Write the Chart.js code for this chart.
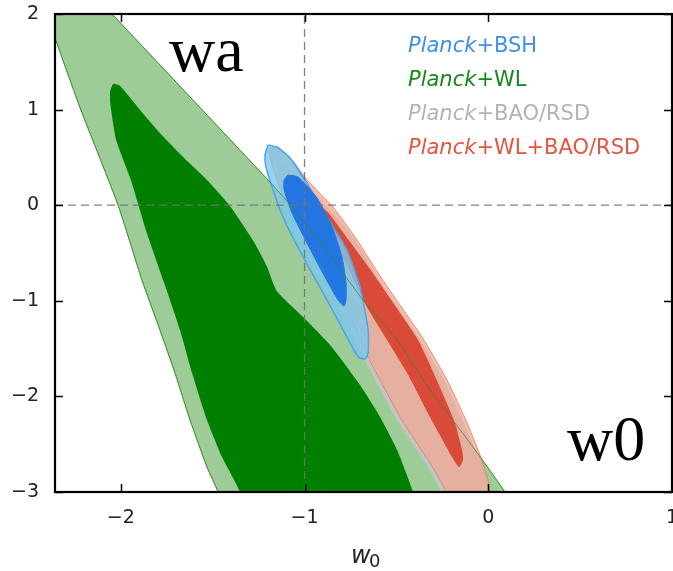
<!DOCTYPE html>
<html>
<head>
<meta charset="utf-8">
<title>w0 - wa constraints</title>
<script src="https://cdn.jsdelivr.net/npm/chart.js@4/dist/chart.umd.min.js"></script>
<style>
  html, body { margin: 0; padding: 0; background: #fff; }
  #wrap { width: 673px; height: 571px; }
</style>
</head>
<body>
<div id="wrap"><canvas id="contours" width="673" height="571"></canvas></div>
<script>
// Axis ranges and ticks
const w0Range = [-2.358, 1];
const waRange = [-3, 2];
const w0Ticks = [-2, -1, 0, 1];
const waTicks = [-3, -2, -1, 0, 1, 2];

// LCDM reference values (dashed cross-hair)
const w0Fid = -1;
const waFid = 0;

// Contour boundaries as [w0, wa] pairs (closed loops)
const wlOuter = [
    [-2.451, 2.251], [-2.173, 2.251], [-2.048, 2.0], [-1.623, 1.132], [-1.199, 0.264],
    [-1.024, -0.113], [-0.834, -0.594], [-0.682, -0.992], [-0.496, -1.410], [-0.317, -1.933],
    [-0.099, -2.487], [0.091, -3.0], [0.145, -3.188], [-1.449, -3.188], [-1.471, -3.0],
    [-1.531, -2.738], [-1.623, -2.247], [-1.705, -1.755], [-1.787, -1.305], [-1.885, -0.782],
    [-2.015, 0.002], [-2.217, 0.996], [-2.358, 1.749], [-2.451, 2.251]
];
const wlInner = [
    [-2.059, 1.184], [-2.042, 1.268], [-2.004, 1.247], [-1.895, 0.996], [-1.787, 0.755],
    [-1.661, 0.504], [-1.531, 0.264], [-1.406, -0.008], [-1.280, -0.370], [-1.205, -0.640],
    [-1.150, -0.900], [-1.008, -1.169], [-0.861, -1.462], [-0.698, -1.881], [-0.589, -2.215],
    [-0.496, -2.561], [-0.409, -3.0], [-0.382, -3.188], [-1.340, -3.188], [-1.351, -3.0],
    [-1.449, -2.634], [-1.531, -2.247], [-1.612, -1.755], [-1.678, -1.305], [-1.760, -0.835],
    [-1.858, -0.291], [-1.945, 0.264], [-2.025, 0.682], [-2.057, 1.060], [-2.059, 1.184]
];
const baoOuter = [
    [-1.155, 0.471], [-1.024, 0.264], [-0.861, -0.050], [-0.725, -0.364], [-0.610, -0.732],
    [-0.502, -1.044], [-0.382, -1.379], [-0.241, -1.828], [-0.132, -2.278], [-0.061, -2.613],
    [-0.017, -2.874], [-0.007, -3.0], [0.004, -3.188], [-0.251, -3.188], [-0.257, -3.0],
    [-0.344, -2.697], [-0.507, -2.215], [-0.681, -1.588], [-0.779, -1.169], [-0.888, -0.782],
    [-1.008, -0.364], [-1.106, 0.054], [-1.144, 0.316], [-1.155, 0.471]
];
const jointOuter = [
    [-1.188, 0.598], [-1.155, 0.609], [-1.068, 0.473], [-0.986, 0.264], [-0.845, -0.019],
    [-0.725, -0.333], [-0.599, -0.709], [-0.480, -1.044], [-0.360, -1.379], [-0.224, -1.828],
    [-0.115, -2.278], [-0.045, -2.613], [-0.001, -2.874], [0.010, -3.0], [0.021, -3.188],
    [-0.225, -3.188], [-0.230, -3.0], [-0.317, -2.697], [-0.480, -2.215], [-0.654, -1.588],
    [-0.752, -1.169], [-0.861, -0.782], [-0.986, -0.364], [-1.117, 0.086], [-1.177, 0.421],
    [-1.193, 0.557], [-1.188, 0.598]
];
const jointInner = [
    [-0.900, -0.030], [-0.870, -0.080], [-0.780, -0.312], [-0.632, -0.699], [-0.502, -1.065],
    [-0.382, -1.410], [-0.273, -1.860], [-0.181, -2.278], [-0.143, -2.561], [-0.137, -2.665],
    [-0.159, -2.738], [-0.197, -2.634], [-0.317, -2.215], [-0.442, -1.755], [-0.551, -1.410],
    [-0.660, -1.065], [-0.752, -0.699], [-0.834, -0.364], [-0.900, -0.130], [-0.900, -0.030]
];
const bshOuter = [
    [-1.199, 0.630], [-1.150, 0.609], [-1.079, 0.494], [-1.008, 0.295], [-0.878, -0.126],
    [-0.769, -0.469], [-0.698, -0.856], [-0.654, -1.305], [-0.654, -1.546], [-0.670, -1.609],
    [-0.708, -1.588], [-0.790, -1.305], [-0.899, -0.918], [-1.008, -0.542], [-1.117, -0.126],
    [-1.177, 0.190], [-1.210, 0.400], [-1.215, 0.525], [-1.199, 0.630]
];
const bshInner = [
    [-1.090, 0.316], [-1.035, 0.295], [-0.932, 0.075], [-0.850, -0.228], [-0.796, -0.542],
    [-0.774, -0.814], [-0.774, -0.992], [-0.785, -1.054], [-0.818, -0.992], [-0.889, -0.751],
    [-0.987, -0.395], [-1.068, -0.082], [-1.111, 0.159], [-1.111, 0.264], [-1.090, 0.316]
];

// Legend entries (all prefixed with italic "Planck")
const legendNames = ['BSH', 'WL', 'BAO/RSD', 'WL+BAO/RSD'];
const legendColors = ['#3f8fe6', '#17861b', '#b3b3b3', '#e6533f'];

const toPoints = arr => arr.map(p => ({x: p[0], y: p[1]}));
const minus = v => String(v).replace('-', '\u2212');

// Helper for one filled contour
function contour(label, data, fillColor, borderColor, borderWidth) {
    return {
        label: label,
        data: toPoints(data),
        backgroundColor: fillColor,
        borderColor: borderColor || 'rgba(0,0,0,0)',
        borderWidth: borderWidth || 0,
        fill: 'shape',
        tension: 0.2,
        capBezierPoints: false,
        pointRadius: 0
    };
}

function dashed(data) {
    return {
        data: toPoints(data),
        borderColor: 'rgba(115,115,115,0.9)',
        borderWidth: 1.3,
        borderDash: [8, 5],
        fill: false,
        tension: 0,
        pointRadius: 0
    };
}

// bottom -> top
const layers = [
    contour('WL 95', wlOuter, 'rgb(157,204,152)', 'rgba(95,165,85,0.9)', 1),
    contour('WL 68', wlInner, '#007f00'),
    contour('BAO 95', baoOuter, 'rgba(196,196,196,0.95)'),
    contour('WL+BAO 95', jointOuter, 'rgba(238,170,150,0.78)', 'rgba(228,120,105,0.75)', 1),
    contour('WL+BAO 68', jointInner, 'rgb(218,74,57)'),
    contour('BSH 95', bshOuter, 'rgba(122,200,235,0.8)', 'rgb(85,160,230)', 1.5),
    contour('BSH 68', bshInner, 'rgba(26,112,225,0.92)', 'rgba(40,120,220,1)', 1),
    Object.assign(contour('WL edge', wlOuter, 'rgba(0,0,0,0)', 'rgba(55,130,40,0.7)', 1), {fill: false}),
    dashed([[w0Fid, waRange[0]], [w0Fid, waRange[1]]]),
    dashed([[w0Range[0], waFid], [w0Range[1], waFid]])
];
layers.forEach((ds, i) => { ds.order = layers.length - i; });

// Frame with inward ticks, legend, and the big axis names
const decorations = {
    id: 'decorations',
    afterDraw(chart) {
        const {ctx, chartArea: a, scales: {x, y}} = chart;
        ctx.save();
        ctx.strokeStyle = '#000';
        ctx.lineWidth = 2.2;
        ctx.strokeRect(a.left, a.top, a.right - a.left, a.bottom - a.top);

        ctx.lineWidth = 1.5;
        ctx.beginPath();
        w0Ticks.forEach(v => {
            const px = Math.round(x.getPixelForValue(v)) + 0.5;
            ctx.moveTo(px, a.bottom); ctx.lineTo(px, a.bottom - 8);
            ctx.moveTo(px, a.top); ctx.lineTo(px, a.top + 8);
        });
        waTicks.forEach(v => {
            const py = Math.round(y.getPixelForValue(v)) + 0.5;
            ctx.moveTo(a.left, py); ctx.lineTo(a.left + 8, py);
            ctx.moveTo(a.right, py); ctx.lineTo(a.right - 8, py);
        });
        ctx.stroke();

        // legend
        ctx.textBaseline = 'alphabetic';
        ctx.textAlign = 'left';
        legendNames.forEach((name, i) => {
            const lx = 408, ly = 52 + i * 34;
            ctx.fillStyle = legendColors[i];
            ctx.font = 'italic 21px "DejaVu Sans"';
            ctx.fillText('Planck', lx, ly);
            const w = ctx.measureText('Planck').width;
            ctx.font = '21px "DejaVu Sans"';
            ctx.fillText('+' + name, lx + w, ly);
        });

        // x axis title w_0
        ctx.fillStyle = '#222';
        ctx.font = 'italic 24px "DejaVu Sans"';
        ctx.fillText('w', 351, 563);
        ctx.font = '18px "DejaVu Sans"';
        ctx.fillText('0', 369, 567);

        // big labels
        ctx.fillStyle = '#000';
        ctx.font = '64px "Liberation Serif"';
        ctx.fillText('wa', 169, 71);
        ctx.fillText('w0', 567, 460);
        ctx.restore();
    }
};

const tickFont = {family: 'DejaVu Sans', size: 19};

new Chart(document.getElementById('contours'), {
    type: 'line',
    data: { datasets: layers },
    options: {
        responsive: false,
        animation: false,
        events: [],
        layout: { padding: { top: 14, right: 1, left: 0, bottom: 0 } },
        plugins: { legend: { display: false }, tooltip: { enabled: false } },
        scales: {
            x: {
                type: 'linear',
                min: w0Range[0],
                max: w0Range[1],
                afterBuildTicks: s => { s.ticks = w0Ticks.map(v => ({value: v})); },
                afterFit: s => { s.height = 79; s.paddingLeft = 0; s.paddingRight = 0; },
                grid: { display: false },
                border: { display: false },
                ticks: {
                    padding: 7, color: '#222', font: tickFont,
                    maxRotation: 0, autoSkip: false, callback: v => minus(v)
                }
            },
            y: {
                type: 'linear',
                min: waRange[0],
                max: waRange[1],
                afterBuildTicks: s => { s.ticks = waTicks.map(v => ({value: v})); },
                afterFit: s => { s.width = 55; s.paddingTop = 0; s.paddingBottom = 0; },
                grid: { display: false },
                border: { display: false },
                ticks: { padding: 8, color: '#222', font: tickFont, callback: v => minus(v) }
            }
        }
    },
    plugins: [decorations]
});
</script>
</body>
</html>
